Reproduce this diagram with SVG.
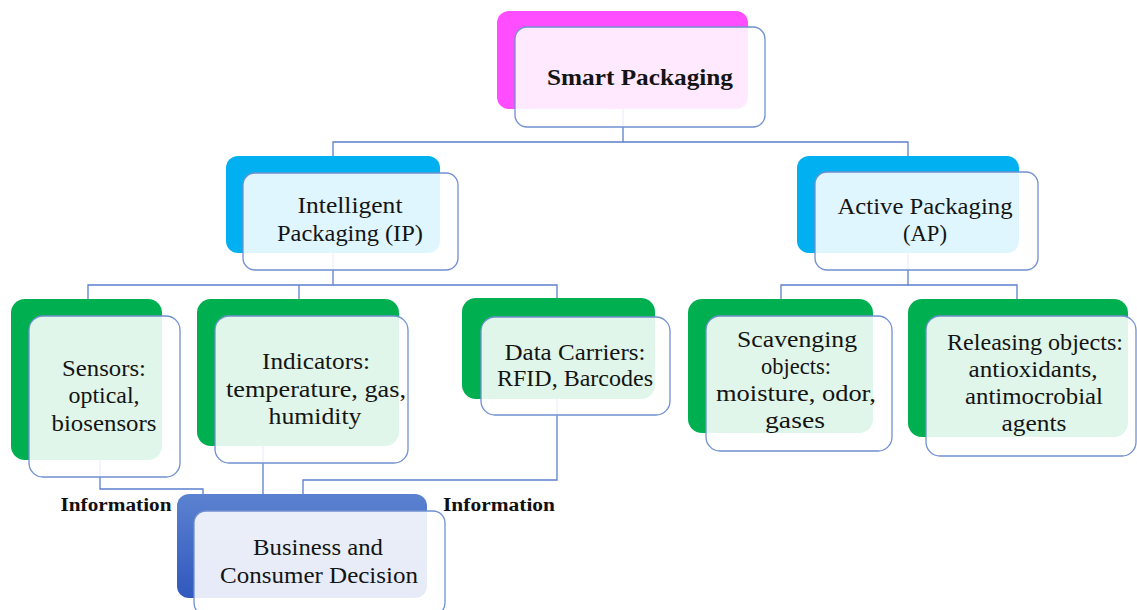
<svg xmlns="http://www.w3.org/2000/svg" width="1137" height="610" viewBox="0 0 1137 610">
  <defs>
    <linearGradient id="gradBiz" x1="0" y1="0" x2="0" y2="1">
      <stop offset="0" stop-color="#5B82D0"/>
      <stop offset="1" stop-color="#3158BD"/>
    </linearGradient>
    <style>
      .link { fill: none; stroke: #5B7FCB; stroke-width: 1.3; }
      .back { stroke: none; }
      .pink { fill: #FF4DFF; }
      .cyan { fill: #00B0F0; }
      .green { fill: #00B050; }
      .biz { fill: url(#gradBiz); }
      .front { fill: #FFFFFF; fill-opacity: 0.88; stroke: #7090D0; stroke-width: 1.3; }
      .lbl { font-family: "Liberation Serif", "Times New Roman", serif; font-size: 23px; fill: #141414; text-anchor: middle; }
      .title { font-weight: bold; }
      .info { font-family: "Liberation Serif", "Times New Roman", serif; font-size: 18.5px; font-weight: bold; fill: #111111; text-anchor: middle; }
    </style>
  </defs>

  <rect width="1137" height="610" fill="#FFFFFF"/>

  <!-- connectors (drawn beneath the boxes) -->
  <g id="connectors">
    <path class="link" d="M623 60 V142 H333 V200"/>
    <path class="link" d="M623 142 H908 V200"/>
    <path class="link" d="M333 200 V285 H88 V340"/>
    <path class="link" d="M299 285 V340"/>
    <path class="link" d="M333 285 H557 V340"/>
    <path class="link" d="M908 200 V285 H781 V340"/>
    <path class="link" d="M908 285 H1017 V340"/>
    <path class="link" d="M100 420 V489 H203 V495"/>
    <path class="link" d="M263 420 V495"/>
    <path class="link" d="M557 380 V480 H303 V495"/>
  </g>

  <g id="smart-packaging">
    <rect class="back pink" x="497" y="11" width="251" height="98" rx="12"/>
    <rect class="front" x="515" y="27" width="250" height="100" rx="12"/>
    <text class="lbl title" x="640" y="85" textLength="186" lengthAdjust="spacingAndGlyphs">Smart Packaging</text>
  </g>

  <g id="intelligent-packaging">
    <rect class="back cyan" x="226" y="156" width="214" height="97" rx="12"/>
    <rect class="front" x="243" y="173" width="215" height="97" rx="12"/>
    <text class="lbl" x="350" y="213" textLength="105" lengthAdjust="spacingAndGlyphs">Intelligent</text>
    <text class="lbl" x="350" y="241" textLength="146" lengthAdjust="spacingAndGlyphs">Packaging (IP)</text>
  </g>

  <g id="active-packaging">
    <rect class="back cyan" x="797" y="156" width="222" height="97" rx="12"/>
    <rect class="front" x="815" y="172" width="223" height="98" rx="12"/>
    <text class="lbl" x="925" y="214" textLength="175" lengthAdjust="spacingAndGlyphs">Active Packaging</text>
    <text class="lbl" x="925" y="241" textLength="44" lengthAdjust="spacingAndGlyphs">(AP)</text>
  </g>

  <g id="sensors">
    <rect class="back green" x="11" y="299" width="151" height="161" rx="14"/>
    <rect class="front" x="29" y="316" width="151" height="161" rx="14"/>
    <text class="lbl" x="104" y="376" textLength="84" lengthAdjust="spacingAndGlyphs">Sensors:</text>
    <text class="lbl" x="104" y="403" textLength="71" lengthAdjust="spacingAndGlyphs">optical,</text>
    <text class="lbl" x="104" y="431" textLength="105" lengthAdjust="spacingAndGlyphs">biosensors</text>
  </g>

  <g id="indicators">
    <rect class="back green" x="197" y="299" width="202" height="147" rx="14"/>
    <rect class="front" x="215" y="316" width="193" height="147" rx="14"/>
    <text class="lbl" x="316" y="369" textLength="108" lengthAdjust="spacingAndGlyphs">Indicators:</text>
    <text class="lbl" x="316" y="397" textLength="180" lengthAdjust="spacingAndGlyphs">temperature, gas,</text>
    <text class="lbl" x="315" y="424" textLength="93" lengthAdjust="spacingAndGlyphs">humidity</text>
  </g>

  <g id="data-carriers">
    <rect class="back green" x="462" y="298" width="193" height="101" rx="14"/>
    <rect class="front" x="481" y="317" width="189" height="98" rx="14"/>
    <text class="lbl" x="575" y="360" textLength="141" lengthAdjust="spacingAndGlyphs">Data Carriers:</text>
    <text class="lbl" x="575" y="386" textLength="156" lengthAdjust="spacingAndGlyphs">RFID, Barcodes</text>
  </g>

  <g id="scavenging">
    <rect class="back green" x="688" y="299" width="185" height="134" rx="14"/>
    <rect class="front" x="706" y="316" width="186" height="135" rx="14"/>
    <text class="lbl" x="797" y="347" textLength="120" lengthAdjust="spacingAndGlyphs">Scavenging</text>
    <text class="lbl" x="796" y="374" textLength="70" lengthAdjust="spacingAndGlyphs">objects:</text>
    <text class="lbl" x="796" y="401" textLength="160" lengthAdjust="spacingAndGlyphs">moisture, odor,</text>
    <text class="lbl" x="795" y="428" textLength="60" lengthAdjust="spacingAndGlyphs">gases</text>
  </g>

  <g id="releasing">
    <rect class="back green" x="908" y="299" width="220" height="138" rx="14"/>
    <rect class="front" x="926" y="316" width="210" height="140" rx="14"/>
    <text class="lbl" x="1035" y="350" textLength="176" lengthAdjust="spacingAndGlyphs">Releasing objects:</text>
    <text class="lbl" x="1033" y="377" textLength="129" lengthAdjust="spacingAndGlyphs">antioxidants,</text>
    <text class="lbl" x="1034" y="404" textLength="138" lengthAdjust="spacingAndGlyphs">antimocrobial</text>
    <text class="lbl" x="1034" y="431" textLength="65" lengthAdjust="spacingAndGlyphs">agents</text>
  </g>

  <g id="decision">
    <rect class="back biz" x="177" y="494" width="250" height="104" rx="12"/>
    <rect class="front" x="194" y="511" width="251" height="104" rx="12"/>
    <text class="lbl" x="318" y="555" textLength="130" lengthAdjust="spacingAndGlyphs">Business and</text>
    <text class="lbl" x="319" y="583" textLength="198" lengthAdjust="spacingAndGlyphs">Consumer Decision</text>
  </g>

  <g id="labels">
    <text class="info" x="116" y="511" textLength="111" lengthAdjust="spacingAndGlyphs">Information</text>
    <text class="info" x="499" y="511" textLength="112" lengthAdjust="spacingAndGlyphs">Information</text>
  </g>
</svg>
